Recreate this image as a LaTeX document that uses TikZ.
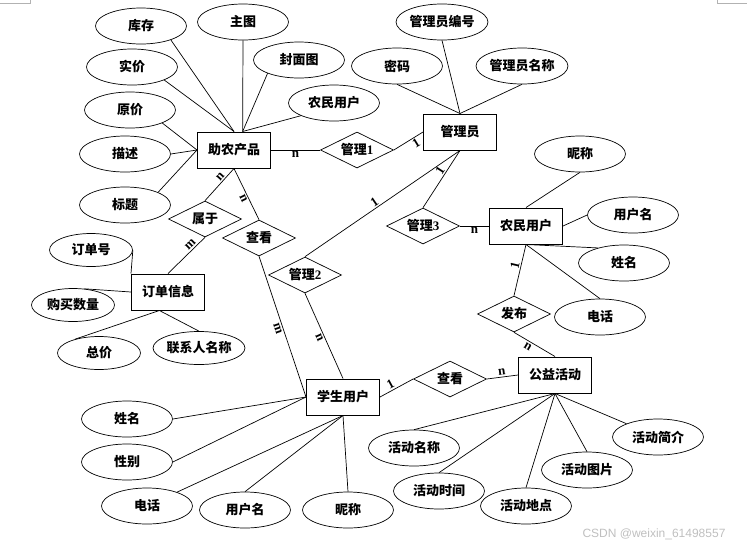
\documentclass[tikz,border=0pt]{standalone}
\usepackage{fontspec}
\setmainfont{Liberation Serif}
\setsansfont{Liberation Sans}
\newfontfamily\cjk{Noto Sans CJK SC}
\usetikzlibrary{shapes.geometric}
\newcommand\lat[1]{{\rmfamily #1}}
\tikzset{
    txt/.style={font=\cjk\bfseries\fontsize{13}{15}\selectfont},
    entity/.style={txt, draw, line width=1pt, minimum width=73pt, minimum height=36pt, inner sep=0pt},
    relation/.style={txt, draw, diamond, aspect=2, line width=0.7pt, minimum width=73pt, minimum height=36pt, inner sep=0pt},
    attr/.style={txt, draw, ellipse, line width=0.7pt, minimum width=91pt, minimum height=36pt, inner sep=0pt},
    smallattr/.style={attr, minimum width=83pt, minimum height=33pt},
    card/.style={font=\rmfamily\bfseries\fontsize{13}{15}\selectfont, sloped, inner sep=1.5pt},
}
\begin{document}
\begin{tikzpicture}[x=1pt, y=-1pt, line width=0.7pt]
    \useasboundingbox (0,0) rectangle (747,547);

    % Page corner marks
    \draw[gray!60, line width=0.5pt] (0,3) -- (30,3) -- (30,0);
    \draw[gray!60, line width=0.5pt] (717,0) -- (717,3) -- (747,3);

    % Entities
    \node[entity] (zn) at (234,150) {助农产品};
    \node[entity] (gly) at (460,132) {管理员};
    \node[entity] (nm) at (526,226) {农民用户};
    \node[entity] (dd) at (168,292) {订单信息};
    \node[entity] (xs) at (343,397) {学生用户};
    \node[entity] (gy) at (555,375) {公益活动};

    % Relations
    \node[relation] (gl1) at (357,150) {管理\lat{1}};
    \node[relation] (sy) at (205,219) {属于};
    \node[relation] (ck1) at (259,238) {查看};
    \node[relation] (gl2) at (305,275) {管理\lat{2}};
    \node[relation] (gl3) at (423,226) {管理\lat{3}};
    \node[relation] (fb) at (514,314) {发布};
    \node[relation] (ck2) at (450,379) {查看};

    % Attributes of 助农产品
    \node[attr] (kc) at (141,26) {库存};
    \node[attr] (zt) at (243,22) {主图};
    \node[attr] (fmt) at (299,60) {封面图};
    \node[attr] (sj) at (132,67) {实价};
    \node[attr] (nma) at (334,103) {农民用户};
    \node[attr] (yj) at (130,110) {原价};
    \node[attr] (ms) at (125,154) {描述};
    \node[attr] (bt) at (125,205) {标题};
    \draw (kc.-25) -- (zn.north);
    \draw (sj.-22) -- (zn.north);
    \draw (zt.south) -- (zn.65);
    \draw (fmt.203) -- (zn.65);
    \draw (nma.201) -- (zn.65);
    \draw (yj.-22) -- (zn.west);
    \draw (ms.east) -- (zn.west);
    \draw (bt.21) -- (zn.west);

    % Attributes of 管理员
    \node[attr] (glybh) at (442,22) {管理员编号};
    \node[attr] (mm) at (397,66) {密码};
    \node[attr] (glymc) at (522,66) {管理员名称};
    \draw (glybh.south) -- (gly.north);
    \draw (mm.south) -- (gly.north);
    \draw (glymc.south) -- (gly.north);

    % Attributes of 农民用户
    \node[attr] (nc1) at (580,154) {昵称};
    \node[attr] (yhm1) at (633,215) {用户名};
    \node[attr] (xm1) at (624,263) {姓名};
    \node[attr] (dh1) at (600,317) {电话};
    \draw (nc1.south) -- (nm.north);
    \draw (yhm1.west) -- (nm.east);
    \draw (xm1.150) -- (nm.south);
    \draw (dh1.north) -- (nm.south);

    % Attributes of 订单信息
    \node[smallattr] (ddh) at (91,250) {订单号};
    \node[smallattr] (gmsl) at (73,305) {购买数量};
    \node[smallattr] (zj) at (99,353) {总价};
    \node[smallattr] (lxr) at (199,348) {联系人名称};
    \draw (ddh.east) -- (dd.north west);
    \draw (gmsl.55) -- (dd.west);
    \draw (zj.150) -- (dd.-115);
    \draw (lxr.north) -- (dd.-115);

    % Attributes of 学生用户
    \node[attr] (xm2) at (127,419) {姓名};
    \node[attr] (xb) at (127,462) {性别};
    \node[attr] (dh2) at (147,506) {电话};
    \node[attr] (yhm2) at (245,510) {用户名};
    \node[attr] (nc2) at (348,510) {昵称};
    \draw (xm2.east) -- (xs.west);
    \draw (xb.east) -- (xs.west);
    \draw (dh2) -- (xs.south);
    \draw (yhm2.north) -- (xs.south);
    \draw (nc2.north) -- (xs.south);

    % Attributes of 公益活动
    \node[attr] (hdmc) at (414,448) {活动名称};
    \node[attr] (hdsj) at (439,491) {活动时间};
    \node[attr] (hddd) at (526,506) {活动地点};
    \node[attr] (hdtp) at (587,470) {活动图片};
    \node[attr] (hdjj) at (658,437) {活动简介};
    \draw (hdmc.north) -- (gy.south);
    \draw (hdsj.north) -- (gy.south);
    \draw (hddd.north) -- (gy.south);
    \draw (hdtp.north) -- (gy.south);
    \draw (hdjj) -- (gy.south);

    % Relationships with cardinalities
    \draw (zn.east) -- node[card, below] {n} (gl1.west);
    \draw (gl1.east) -- node[card, below, pos=0.65] {1} (gly.west);
    \draw (zn.south) -- node[card, above, pos=0.35] {n} (sy.north);
    \draw (sy.south) -- node[card, above, pos=0.3] {m} (dd.north);
    \draw (zn.south) -- node[card, below, pos=0.55] {n} (ck1.north);
    \draw (ck1.south) -- node[card, below, pos=0.5] {m} (xs.west);
    \draw (gl2.north) -- node[card, above, pos=0.47] {1} (gly.south);
    \draw (gl2.south) -- node[card, below, pos=0.5] {n} (xs.north);
    \draw (gly.south) -- node[card, above, pos=0.4] {1} (gl3.north);
    \draw (gl3.east) -- node[card, below] {n} (nm.west);
    \draw (nm.south) -- node[card, above, pos=0.43] {1} (fb.north);
    \draw (fb.south) -- node[card, below, pos=0.4] {n} (gy.north);
    \draw (xs.east) -- node[card, above, pos=0.4] {1} (ck2.west);
    \draw (ck2.east) -- node[card, above] {n} (gy.west);

    % Watermark
    \node[gray!50, font=\sffamily\fontsize{12}{14}\selectfont] (wm) at (654,534) {CSDN @weixin\_61498557};
\end{tikzpicture}
\end{document}
